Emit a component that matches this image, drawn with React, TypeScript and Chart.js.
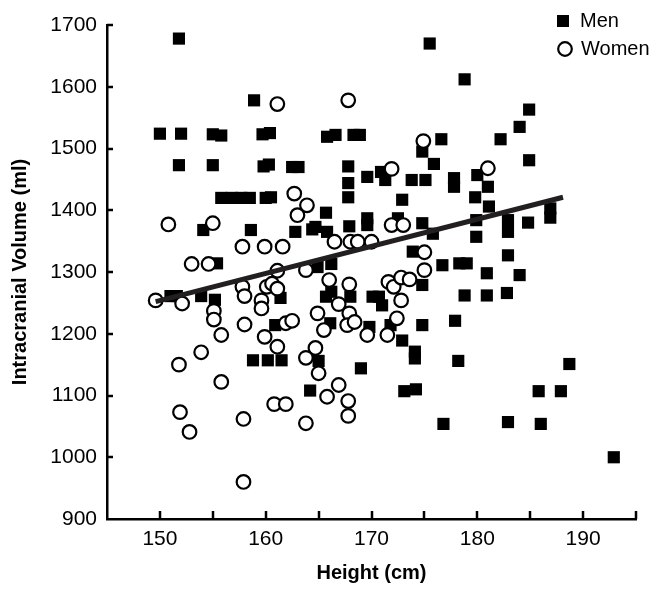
import React, { useEffect, useRef } from "react";
import { Chart, registerables } from "chart.js";

Chart.register(...registerables);

const menHeight = [
  151.8, 158.9, 150.0, 152.0, 155.0, 155.8, 159.7, 160.4, 151.8, 155.0, 159.8, 160.3,
  155.8, 156.8, 157.7, 158.5, 160.0, 160.5, 175.5, 178.8, 165.8, 166.6, 168.3, 168.9,
  176.6, 174.8, 175.9, 177.8, 177.8, 180.0, 162.5, 163.1, 167.8, 167.8, 169.6, 170.9,
  171.3, 173.8, 175.1, 167.8, 172.9, 179.8, 184.9, 184.0, 182.2, 184.9, 181.0, 154.1,
  158.6, 155.4, 151.0, 151.6, 153.9, 155.2, 161.4, 160.9, 158.8, 160.2, 161.5, 165.7,
  169.6, 169.6, 167.9, 164.4, 164.7, 162.8, 165.8, 172.5, 174.8, 175.8, 179.9, 179.9,
  173.9, 176.7, 178.3, 179.0, 174.8, 164.9, 166.2, 165.7, 166.2, 168.0, 170.1, 170.7,
  171.0, 178.8, 166.1, 169.8, 171.8, 174.8, 177.9, 172.9, 165.0, 174.1, 174.1, 178.2,
  181.1, 182.9, 182.9, 184.8, 186.9, 186.9, 182.9, 180.9, 184.0, 180.9, 182.8, 169.0,
  164.2, 173.1, 174.2, 176.8, 188.7, 185.8, 187.9, 182.9, 186.0, 192.9,
];
const menVolume = [
  1678, 1578, 1524, 1524, 1523, 1521, 1523, 1525, 1473, 1473, 1471, 1474,
  1420, 1420, 1420, 1420, 1420, 1421, 1670, 1612, 1519, 1522, 1522, 1522,
  1515, 1495, 1475, 1452, 1438, 1457, 1470, 1470, 1471, 1444, 1454, 1462,
  1449, 1449, 1449, 1421, 1417, 1421, 1563, 1535, 1515, 1481, 1438, 1368,
  1368, 1314, 1261, 1261, 1261, 1255, 1258, 1214, 1157, 1157, 1157, 1396,
  1387, 1376, 1374, 1369, 1373, 1365, 1365, 1387, 1379, 1362, 1357, 1384,
  1333, 1311, 1314, 1314, 1279, 1308, 1313, 1260, 1268, 1260, 1260, 1260,
  1246, 1262, 1217, 1211, 1214, 1214, 1221, 1189, 1156, 1171, 1160, 1156,
  1406, 1384, 1365, 1380, 1403, 1388, 1327, 1298, 1295, 1262, 1266, 1144,
  1108, 1107, 1110, 1054, 1151, 1107, 1107, 1057, 1054, 1000,
];

const womenHeight = [
  161.1, 167.8, 174.9, 171.9, 181.0, 162.7, 163.9, 163.0, 150.8, 155.0, 157.8, 159.9,
  161.6, 153.0, 154.6, 161.1, 149.6, 152.1, 155.1, 155.1, 155.8, 157.8, 158.0, 160.1,
  160.6, 161.1, 159.6, 159.6, 158.0, 159.9, 161.9, 161.1, 153.9, 151.8, 166.5, 168.0,
  168.7, 170.0, 171.9, 173.0, 175.0, 175.0, 163.8, 166.0, 167.9, 171.6, 172.1, 172.8,
  173.6, 166.9, 172.8, 164.9, 167.9, 162.5, 165.5, 167.7, 168.4, 169.6, 171.5, 172.4,
  164.7, 163.8, 165.0, 166.9, 165.8, 167.8, 167.8, 163.8, 160.8, 161.9, 155.8, 151.9,
  157.9, 152.8, 157.9,
];
const womenVolume = [
  1572, 1578, 1512, 1467, 1468, 1427, 1408, 1392, 1377, 1379, 1341, 1341,
  1341, 1313, 1313, 1302, 1254, 1249, 1237, 1223, 1198, 1276, 1261, 1276,
  1281, 1273, 1254, 1241, 1215, 1195, 1217, 1179, 1170, 1150, 1349, 1349,
  1349, 1349, 1376, 1376, 1332, 1303, 1303, 1287, 1280, 1284, 1276, 1291,
  1288, 1248, 1254, 1233, 1233, 1221, 1206, 1214, 1219, 1198, 1198, 1225,
  1177, 1161, 1136, 1117, 1098, 1091, 1067, 1055, 1086, 1086, 1122, 1073,
  1062, 1041, 960,
];

const fitHeight = [149.6, 188.1];
const fitVolume = [1252, 1421];

const xTickLabels = [150, 160, 170, 180, 190];
const yTickLabels = [900, 1000, 1100, 1200, 1300, 1400, 1500, 1600, 1700];
const seriesNames = ["Men", "Women"];
const xTitle = "Height (cm)";
const yTitle = "Intracranial Volume (ml)";

const FONT = "'Liberation Sans', Arial, Helvetica, sans-serif";

const toPoints = (xs: number[], ys: number[]) => xs.map((x, i) => ({ x, y: ys[i] }));

const extrasPlugin = {
  id: "extras",
  afterDraw(chart: any) {
    const ctx = chart.ctx;
    const xs = chart.scales.x;
    const ys = chart.scales.y;
    const area = chart.chartArea;
    ctx.save();
    ctx.strokeStyle = "#000";
    ctx.lineWidth = 2.5;
    // inward tick marks on x axis
    xs.ticks.forEach((t: any) => {
      if (t.value <= xs.min) return;
      const px = Math.round(xs.getPixelForValue(t.value));
      ctx.beginPath();
      ctx.moveTo(px, area.bottom);
      ctx.lineTo(px, area.bottom - 8);
      ctx.stroke();
    });
    // inward tick marks on y axis
    ys.ticks.forEach((t: any) => {
      if (t.value <= ys.min) return;
      const py = Math.round(ys.getPixelForValue(t.value));
      ctx.beginPath();
      ctx.moveTo(area.left, py);
      ctx.lineTo(area.left + 6, py);
      ctx.stroke();
    });
    // legend
    ctx.fillStyle = "#000";
    ctx.fillRect(557, 15, 12, 12);
    ctx.beginPath();
    ctx.lineWidth = 2.2;
    ctx.fillStyle = "#fff";
    ctx.arc(565, 49, 6.8, 0, Math.PI * 2);
    ctx.fill();
    ctx.stroke();
    ctx.fillStyle = "#000";
    ctx.font = `20px ${FONT}`;
    ctx.textBaseline = "middle";
    ctx.textAlign = "left";
    ctx.fillText(seriesNames[0], 580, 21);
    ctx.fillText(seriesNames[1], 581, 49);
    ctx.restore();
  },
};

export default function App() {
  const canvasRef = useRef<HTMLCanvasElement | null>(null);

  useEffect(() => {
    if (!canvasRef.current) return;
    const chart = new Chart(canvasRef.current, {
      type: "scatter",
      data: {
        datasets: [
          {
            type: "line",
            label: "fit",
            data: toPoints(fitHeight, fitVolume),
            borderColor: "#231f20",
            borderWidth: 5,
            pointRadius: 0,
            fill: false,
            order: 0,
          } as any,
          {
            label: seriesNames[1],
            data: toPoints(womenHeight, womenVolume),
            pointStyle: "circle",
            pointRadius: 6.8,
            pointHoverRadius: 6.8,
            backgroundColor: "#fff",
            borderColor: "#000",
            borderWidth: 2.2,
            order: 1,
          },
          {
            label: seriesNames[0],
            data: toPoints(menHeight, menVolume),
            pointStyle: "rect",
            pointRadius: 8.6,
            pointHoverRadius: 8.6,
            backgroundColor: "#000",
            borderColor: "#000",
            borderWidth: 0,
            order: 2,
          },
        ],
      },
      options: {
        responsive: false,
        animation: false,
        events: [],
        layout: { padding: { left: 0, right: 31, top: 25, bottom: 0 } },
        plugins: {
          legend: { display: false },
          tooltip: { enabled: false },
        },
        scales: {
          x: {
            type: "linear",
            min: 145,
            max: 195,
            afterFit: (s: any) => {
              s.height = 78;
            },
            grid: { display: false, drawTicks: false },
            border: { display: true, color: "#000", width: 2.5 },
            ticks: {
              stepSize: 5,
              padding: 8,
              color: "#000",
              font: { family: FONT, size: 21 },
              maxRotation: 0,
              autoSkip: false,
              callback: (v: any) => (xTickLabels.includes(Number(v)) ? String(v) : ""),
            },
            title: {
              display: true,
              text: xTitle,
              color: "#000",
              font: { family: FONT, size: 20, weight: "bold" },
              padding: { top: 12, bottom: 12 },
            },
          },
          y: {
            type: "linear",
            min: 900,
            max: 1700,
            afterFit: (s: any) => {
              s.width = 107;
            },
            grid: { display: false, drawTicks: false },
            border: { display: true, color: "#000", width: 2.5 },
            ticks: {
              stepSize: 100,
              padding: 10,
              color: "#000",
              font: { family: FONT, size: 21 },
              autoSkip: false,
              callback: (v: any) => (yTickLabels.includes(Number(v)) ? String(v) : ""),
            },
            title: {
              display: true,
              text: yTitle,
              color: "#000",
              font: { family: FONT, size: 20, weight: "bold" },
              padding: { top: 8, bottom: 8 },
            },
          },
        },
      },
      plugins: [extrasPlugin],
    });
    return () => chart.destroy();
  }, []);

  return (
    <div style={{ position: "fixed", left: 0, top: 0, width: 667, height: 597, background: "#fff" }}>
      <canvas ref={canvasRef} width={667} height={597} style={{ display: "block" }} />
    </div>
  );
}
